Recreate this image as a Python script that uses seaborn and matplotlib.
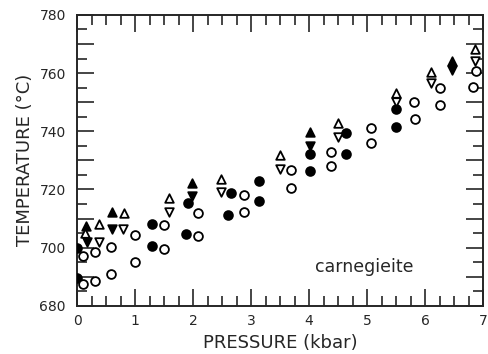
import numpy as np
import pandas as pd
import matplotlib
matplotlib.use("Agg")
import matplotlib.pyplot as plt
from matplotlib.ticker import MultipleLocator, FuncFormatter
import seaborn as sns

# Datos (presión kbar, temperatura °C)
p_fill_circ = [0.0, 0.0, 1.29, 1.29, 1.88, 1.91, 2.61, 2.65, 3.14, 3.14,
               4.02, 4.02, 4.63, 4.63, 5.50, 5.50]
t_fill_circ = [699.8, 689.5, 708.3, 700.4, 704.6, 715.4, 711.3, 718.7, 722.8, 715.9,
               732.2, 726.2, 739.4, 732.2, 747.6, 741.3]

p_open_circ = [0.11, 0.11, 0.31, 0.31, 0.59, 0.59, 1.0, 1.0, 1.49, 1.49, 2.08, 2.08,
               2.88, 2.88, 3.68, 3.68, 4.38, 4.38, 5.07, 5.07, 5.81, 5.82,
               6.26, 6.26, 6.88, 6.82]
t_open_circ = [697.2, 687.5, 698.5, 688.6, 700.2, 691.0, 704.2, 695.0, 707.8, 699.6,
               712.0, 704.1, 718.1, 712.4, 726.7, 720.4, 733.0, 727.9, 741.0, 736.1,
               749.9, 744.2, 754.8, 749.1, 760.8, 755.2]

p_fill_up = [0.15, 0.61, 1.98, 4.02, 6.46]
t_fill_up = [707.3, 712.4, 722.2, 739.6, 764.0]

p_fill_down = [0.17, 0.61, 1.98, 4.02, 6.46]
t_fill_down = [701.8, 706.5, 717.8, 734.8, 760.9]

p_open_up = [0.14, 0.38, 0.80, 1.59, 2.48, 3.50, 4.50, 5.50, 6.11, 6.86]
t_open_up = [705.0, 708.0, 711.9, 717.2, 723.6, 731.9, 743.0, 753.3, 760.5, 768.2]

p_open_down = [0.38, 0.79, 1.59, 2.48, 3.50, 4.50, 5.50, 6.11, 6.86]
t_open_down = [701.8, 706.5, 712.2, 719.0, 727.0, 738.2, 749.9, 756.5, 764.3]

sns.set_style("ticks")
plt.rcParams['font.family'] = ['DejaVu Sans']

fig = plt.figure(figsize=(4.88, 3.54), dpi=100)
ax = fig.add_axes([0.158, 0.136, 0.832, 0.822])

series = [
    (p_fill_circ, t_fill_circ, "o", "black", 40),
    (p_open_circ, t_open_circ, "o", "white", 40),
    (p_fill_up, t_fill_up, "^", "black", 38),
    (p_fill_down, t_fill_down, "v", "black", 38),
    (p_open_up, t_open_up, "^", "white", 38),
    (p_open_down, t_open_down, "v", "white", 38),
]
for px, ty, mk, fc, sz in series:
    df = pd.DataFrame({"P": px, "T": ty})
    sns.scatterplot(data=df, x="P", y="T", marker=mk, s=sz, color=fc,
                    edgecolor="black", linewidth=1.3, ax=ax, zorder=3)

ax.set_xlim(0, 7)
ax.set_ylim(680, 780)
ax.xaxis.set_major_locator(MultipleLocator(1))
ax.xaxis.set_minor_locator(MultipleLocator(0.25))
ax.yaxis.set_major_locator(MultipleLocator(10))
ax.yaxis.set_minor_locator(MultipleLocator(5))
ax.yaxis.set_major_formatter(FuncFormatter(lambda v, pos: f"{int(v)}" if int(round(v)) % 20 == 0 else ""))
ax.tick_params(which="both", direction="in", top=True, right=True, width=1.2,
               labelsize=10)
ax.tick_params(axis="y", pad=8)
ax.tick_params(axis="x", pad=6)
ax.tick_params(which="major", length=12)
ax.tick_params(which="minor", length=7)
for sp in ax.spines.values():
    sp.set_linewidth(1.4)

ax.set_xlabel("PRESSURE (kbar)", fontsize=13, labelpad=4)
ax.set_ylabel("TEMPERATURE (°C)", fontsize=13, labelpad=4)
ax.text(4.95, 693.4, "carnegieite", fontsize=12.5, ha="center", va="center")

fig.savefig("out.png", dpi=100)
